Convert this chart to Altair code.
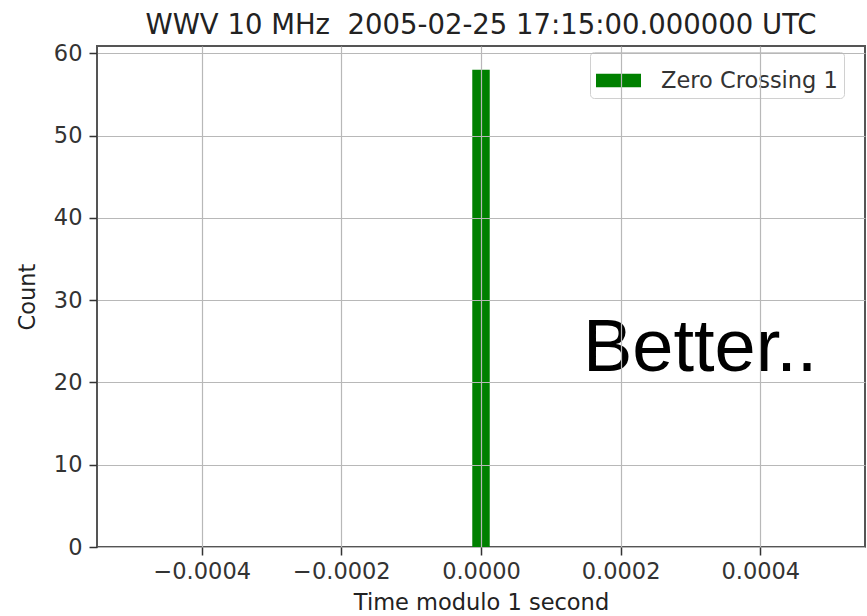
import altair as alt
import pandas as pd

# Data
bin_start = [-0.0000125]
bin_end = [0.0000125]
counts = [58]
series = ["Zero Crossing 1"]

x_ticks = [-0.0004, -0.0002, 0.0, 0.0002, 0.0004]
y_ticks = [0, 10, 20, 30, 40, 50, 60]
x_domain = [-0.00055, 0.00055]
y_domain = [0, 60.9]

note_text = ["Better.."]
note_x = [0.000146]
note_y = [21.4]

title_text = "WWV 10 MHz \u00a02005-02-25 17:15:00.000000 UTC"

df = pd.DataFrame({"x0": bin_start, "x1": bin_end, "count": counts, "series": series})
note_df = pd.DataFrame({"x": note_x, "y": note_y, "t": note_text})

FONT = "DejaVu Sans"

bars = alt.Chart(df).mark_rect(color="green").encode(
    x=alt.X("x0:Q", scale=alt.Scale(domain=x_domain, nice=False, zero=False),
            axis=alt.Axis(values=x_ticks, format=".4f", title="Time modulo 1 second",
                          grid=True, zindex=1)),
    x2="x1:Q",
    y=alt.Y("count:Q", scale=alt.Scale(domain=y_domain, nice=False),
            axis=alt.Axis(values=y_ticks, title="Count", grid=True, zindex=1)),
    y2=alt.datum(0),
    color=alt.Color("series:N", scale=alt.Scale(range=["green"]),
                    legend=alt.Legend(title=None, orient="none", legendX=493, legendY=6,
                                      symbolType="M-1,-0.3H1V0.3H-1Z", symbolSize=2025,
                                      symbolStrokeWidth=0, labelOffset=20, padding=6,
                                      labelFontSize=22.5, labelFont=FONT, labelColor="#333",
                                      labelLimit=400,
                                      strokeColor="#d0d0d0", fillColor="white",
                                      cornerRadius=4)),
)

note = alt.Chart(note_df).mark_text(align="left", baseline="alphabetic", fontSize=74,
                                    font="Liberation Sans", color="black").encode(
    x="x:Q", y="y:Q", text="t:N")

chart = alt.layer(bars, note).properties(
    width=768, height=501,
    title=alt.TitleParams(title_text, fontSize=27.5, font=FONT, fontWeight="normal",
                          color="#222", offset=3),
    autosize=alt.AutoSizeParams(type="none"),
    padding={"left": 97, "top": 46, "right": 2, "bottom": 69},
).configure_view(stroke="#555", strokeWidth=2).configure_axis(
    labelFont=FONT, labelFontSize=22.5, labelColor="#333",
    titleFont=FONT, titleFontSize=22.5, titleFontWeight="normal", titleColor="#222",
    gridColor="#b8b8b8", gridWidth=1.2, domain=False,
    tickColor="#333", tickSize=8, tickWidth=1.5,
).configure_axisX(labelPadding=5, titlePadding=9).configure_axisY(labelPadding=7, titlePadding=14)

chart.save("out.html", embed_options={"renderer": "svg", "actions": False})
